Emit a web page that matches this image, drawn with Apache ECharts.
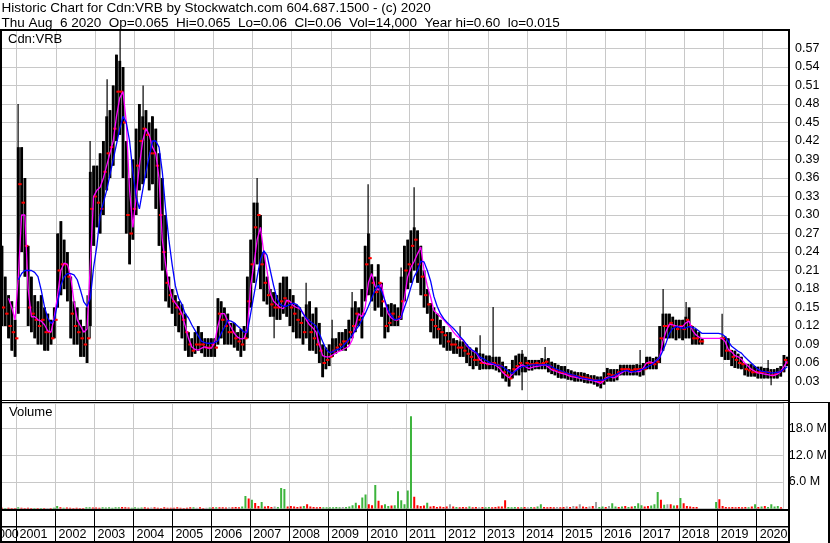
<!DOCTYPE html>
<html><head><meta charset="utf-8">
<script src="https://cdn.jsdelivr.net/npm/echarts@6/dist/echarts.min.js"></script>
<style>html,body{margin:0;padding:0;background:#fff;}#c{width:830px;height:543px;}</style>
</head><body><div id="c"></div>
<script>
// Monthly data, Aug 2000 .. Aug 2020
const START_YEAR = 2000, START_MONTH = 8;
// dense monthly trading range (high / low) and month-end close
const high = [
 .25,.20,.17,.16,.13,
 .41,.41,.36,.25,.20,.17,.16,.17,.15,.14,.13,.15,
 .27,.29,.26,.24,.20,.16,.15,.13,.12,.15,.37,.38,
 .38,.40,.42,.46,.47,.51,.56,.55,.54,.42,.36,.39,
 .44,.48,.46,.47,.45,.46,.44,.40,.36,.30,.20,.18,
 .17,.16,.155,.14,.11,.10,.11,.12,.11,.10,.10,.10,
 .10,.165,.16,.15,.14,.125,.125,.11,.115,.12,.20,.26,
 .32,.32,.30,.24,.20,.18,.175,.17,.19,.20,.20,.18,
 .17,.155,.15,.135,.155,.16,.14,.15,.125,.09,.085,.09,
 .10,.10,.11,.11,.115,.13,.15,.16,.15,.18,.25,.27,
 .22,.20,.22,.19,.15,.155,.157,.155,.15,.20,.25,.26,
 .275,.28,.275,.25,.21,.18,.157,.15,.14,.13,.12,.11,
 .11,.10,.097,.095,.095,.09,.085,.08,.085,.076,.075,.072,
 .072,.07,.07,.07,.062,.055,.05,.065,.072,.075,.075,.07,
 .065,.065,.065,.065,.068,.066,.068,.062,.06,.057,.055,.055,
 .05,.048,.046,.045,.045,.044,.042,.04,.04,.038,.038,.045,
 .052,.05,.05,.05,.057,.057,.057,.057,.057,.058,.057,.06,
 .07,.07,.068,.07,.12,.14,.14,.14,.135,.13,.13,.13,
 .135,.15,.12,.115,.11,.10,null,null,null,null,null,.10,
 .103,.10,.081,.08,.075,.07,.06,.058,.058,.055,.054,.054,
 .052,.052,.05,.05,.052,.055,.073,.07
];
const low = [
 .12,.12,.10,.08,.07,
 .14,.24,.20,.12,.11,.10,.09,.09,.08,.08,.09,.10,
 .15,.17,.18,.16,.10,.09,.09,.07,.07,.06,.12,.25,
 .28,.27,.30,.34,.36,.38,.42,.43,.36,.27,.22,.26,
 .30,.34,.35,.36,.34,.35,.31,.25,.21,.16,.15,.14,
 .12,.11,.10,.08,.07,.07,.075,.08,.076,.07,.07,.07,
 .07,.09,.10,.09,.09,.09,.085,.08,.07,.08,.10,.15,
 .19,.22,.18,.16,.155,.135,.135,.13,.13,.14,.135,.12,
 .11,.10,.10,.09,.10,.08,.08,.075,.06,.037,.05,.055,
 .07,.075,.08,.08,.08,.09,.10,.11,.12,.10,.16,.17,
 .16,.145,.15,.135,.10,.11,.12,.12,.12,.13,.16,.18,
 .19,.21,.19,.17,.15,.14,.11,.10,.10,.09,.085,.08,
 .08,.075,.075,.07,.07,.06,.055,.05,.055,.049,.05,.05,
 .05,.05,.048,.045,.035,.03,.022,.035,.04,.04,.045,.045,
 .048,.048,.05,.05,.05,.05,.045,.042,.04,.036,.035,.035,
 .033,.032,.03,.03,.03,.028,.027,.027,.025,.022,.019,.025,
 .03,.03,.03,.032,.04,.04,.04,.04,.04,.04,.038,.04,
 .05,.05,.05,.05,.06,.08,.10,.10,.10,.097,.10,.097,
 .10,.10,.09,.09,.09,.09,null,null,null,null,null,.07,
 .065,.065,.055,.052,.051,.05,.04,.038,.038,.038,.035,.035,
 .035,.035,.035,.035,.035,.038,.045,.055
];
const close = [
 .15,.14,.12,.11,.10,
 .35,.32,.25,.15,.14,.13,.12,.13,.11,.11,.10,.13,
 .21,.22,.22,.20,.14,.12,.11,.10,.09,.10,.31,.33,
 .32,.31,.37,.40,.41,.44,.50,.50,.45,.30,.27,.31,
 .38,.42,.44,.43,.40,.40,.38,.30,.24,.19,.17,.16,
 .15,.14,.13,.11,.09,.08,.09,.09,.09,.085,.085,.09,
 .085,.14,.13,.12,.11,.11,.10,.095,.09,.10,.16,.22,
 .28,.30,.22,.19,.17,.155,.15,.15,.16,.165,.16,.15,
 .14,.13,.125,.11,.13,.11,.10,.09,.08,.06,.065,.07,
 .08,.085,.09,.095,.095,.11,.12,.14,.13,.14,.22,.23,
 .19,.175,.19,.16,.12,.125,.14,.13,.135,.16,.21,.22,
 .25,.26,.22,.20,.17,.155,.13,.12,.115,.11,.105,.095,
 .09,.09,.085,.085,.08,.075,.07,.065,.065,.06,.06,.058,
 .06,.06,.057,.055,.045,.04,.035,.05,.055,.06,.055,.06,
 .058,.058,.06,.058,.06,.062,.055,.05,.048,.045,.045,.043,
 .04,.04,.038,.038,.037,.036,.035,.033,.032,.03,.03,.035,
 .042,.04,.04,.045,.05,.05,.05,.048,.05,.05,.05,.05,
 .06,.06,.058,.062,.10,.12,.12,.125,.12,.115,.12,.115,
 .13,.12,.10,.10,.095,.095,null,null,null,null,null,.10,
 .08,.08,.07,.065,.06,.058,.05,.048,.045,.045,.045,.045,
 .045,.045,.04,.042,.045,.048,.065,.06
];
// single-day extremes that stick out of the dense range (thin wicks)
const spikeMonths = ['2001-01','2002-10','2002-11','2003-04','2003-08','2004-03','2007-02','2007-07','2008-05','2009-01','2009-07','2009-12','2010-10','2011-02','2012-04','2012-10','2013-02','2013-11','2014-06','2016-11','2017-06','2018-01','2018-12','2020-02','2020-03'];
const spikeHighs = [.48,.17,.42,.52,.60,.51,.36,null,.19,.13,.175,.35,.215,.345,.12,.105,.151,.081,.086,.081,.18,.159,.14,.065,null];
const spikeLows  = [null,null,.10,null,null,null,null,.10,null,null,null,null,null,null,null,null,null,.016,null,null,null,null,null,null,.024];
const maShort = [
 null,null,.165,.15,.13,
 .20,.30,.30,.18,.135,.135,.13,.128,.122,.112,.11,.135,
 .17,.21,.222,.22,.20,.16,.13,.12,.11,.115,.22,.33,
 .34,.345,.36,.38,.40,.42,.46,.49,.50,.45,.34,.28,
 .33,.38,.42,.44,.43,.41,.40,.36,.26,.22,.187,.165,
 .157,.15,.14,.12,.10,.086,.082,.081,.084,.086,.084,.084,
 .094,.12,.14,.14,.128,.118,.108,.102,.099,.10,.115,.185,
 .22,.26,.28,.24,.21,.173,.16,.155,.15,.148,.162,.16,
 .153,.15,.148,.142,.13,.122,.117,.11,.09,.072,.07,.07,
 .073,.076,.079,.081,.084,.087,.097,.12,.14,.135,.15,.19,
 .205,.185,.178,.188,.16,.14,.133,.13,.13,.133,.165,.20,
 .215,.225,.237,.248,.21,.185,.167,.145,.14,.135,.13,.124,
 .118,.11,.104,.10,.097,.088,.083,.079,.076,.066,.061,.059,
 .058,.058,.056,.052,.045,.04,.036,.042,.049,.054,.057,.054,
 .051,.053,.054,.055,.056,.057,.053,.049,.047,.045,.043,.042,
 .04,.038,.037,.036,.035,.034,.033,.032,.031,.029,.027,.032,
 .037,.037,.036,.038,.043,.046,.048,.045,.046,.046,.046,.052,
 .06,.062,.06,.064,.069,.095,.112,.123,.122,.12,.119,.119,
 .125,.128,.113,.106,.102,.10,.10,.10,.10,.10,.10,.10,
 .095,.082,.078,.072,.07,.066,.06,.055,.05,.047,.044,.043,
 .042,.041,.04,.04,.042,.046,.054,.063
];
const maLong = [
 null,null,null,null,null,
 .195,.205,.21,.21,.21,.207,.20,.178,.151,.133,.124,.13,
 .157,.186,.20,.205,.205,.203,.195,.178,.159,.152,.165,.215,
 .25,.30,.32,.34,.365,.39,.415,.44,.46,.45,.42,.37,
 .33,.31,.34,.37,.395,.42,.42,.41,.37,.31,.26,.22,
 .185,.165,.155,.14,.133,.122,.113,.104,.095,.093,.092,.092,
 .093,.096,.108,.118,.129,.128,.125,.12,.115,.11,.11,.14,
 .17,.20,.228,.242,.235,.21,.186,.165,.155,.152,.152,.155,
 .157,.155,.15,.14,.133,.128,.124,.12,.108,.095,.083,.077,
 .078,.081,.083,.086,.092,.098,.105,.113,.12,.13,.14,.152,
 .165,.178,.186,.177,.162,.146,.137,.13,.131,.134,.15,.165,
 .183,.20,.21,.225,.224,.21,.193,.168,.152,.14,.132,.126,
 .121,.116,.11,.103,.097,.09,.084,.08,.077,.07,.067,.064,
 .061,.059,.057,.056,.054,.05,.046,.043,.047,.051,.054,.055,
 .056,.057,.057,.057,.057,.057,.057,.054,.051,.049,.047,.045,
 .043,.041,.04,.038,.036,.035,.034,.033,.032,.032,.032,.033,
 .035,.037,.039,.042,.045,.047,.048,.046,.046,.047,.049,.05,
 .053,.056,.059,.064,.069,.08,.093,.108,.116,.119,.118,.116,
 .117,.119,.118,.116,.112,.108,.108,.108,.108,.108,.108,.107,
 .103,.095,.087,.083,.079,.076,.07,.065,.06,.055,.05,.047,
 .046,.045,.044,.044,.045,.046,.05,.054
];
// volume in millions of shares, and direction (1 up / -1 down / 0 unchanged)
const volume = [
 .2,.15,.2,.1,.15,
 .3,.2,.15,.2,.1,.15,.1,.15,.1,.15,.1,.2,
 .6,.3,.2,.25,.2,.15,.2,.1,.15,.3,.3,.25,
 .25,.2,.3,.25,.3,.2,.3,.35,.4,.3,.25,.2,
 .3,.2,.25,.3,.2,.25,.3,.2,.15,.3,.2,.2,
 .2,.3,.2,.15,.2,.3,.35,.2,.3,.15,.2,.25,
 .3,.35,.3,.3,.25,.3,.3,.4,.35,.5,2.85,2.3,
 2.0,1.3,.6,1.5,.5,.6,.4,.5,.4,4.65,4.4,.5,
 .6,.5,.4,.5,.6,1.0,.5,.4,.3,.4,.3,.3,
 .3,.3,.4,.3,.4,.4,.5,.8,1.35,.8,2.5,3.2,
 1.0,.8,5.3,1.8,.8,1.0,.6,.7,.8,3.9,1.9,1.0,
 4.1,20.8,2.7,.8,.6,.7,1.35,.5,.6,.4,.5,.4,
 .5,1.0,.5,.4,.3,.4,.3,.5,.3,.4,.3,.4,
 .3,.4,.3,.4,.5,.5,1.9,.4,.3,.4,.3,.3,
 .4,.3,.4,.3,.5,1.0,.4,.3,.4,.3,.4,.3,
 .4,.5,.4,.6,.5,1.0,.5,.4,.5,.6,1.5,.4,
 .5,.4,.6,1.2,.5,.4,.5,.6,.4,.5,.6,1.2,
 .8,.5,.6,.7,1.0,3.75,2.0,.9,1.0,1.0,.7,.8,
 2.4,1.2,.6,.5,.4,.4,null,null,null,null,null,1.5,
 2.1,.6,.4,.3,.4,.3,.4,.3,.4,.3,.5,1.0,
 .4,.5,.6,.4,1.0,.5,.6,.3
];
const volDir = [
 -1,1,-1,-1,-1,
 1,-1,-1,-1,-1,1,-1,1,-1,0,-1,1,
 1,-1,1,-1,-1,-1,-1,-1,-1,1,1,-1,
 -1,-1,1,1,1,1,1,1,-1,-1,-1,1,
 1,1,1,-1,-1,0,-1,-1,-1,-1,-1,-1,
 -1,-1,-1,-1,-1,-1,1,0,-1,-1,0,1,
 -1,1,-1,-1,-1,0,-1,-1,-1,1,1,-1,
 1,-1,-1,1,-1,-1,-1,0,1,1,1,-1,
 -1,-1,-1,-1,1,-1,-1,-1,-1,-1,1,1,
 1,1,1,1,0,1,1,1,1,-1,1,1,
 -1,-1,1,-1,-1,1,1,-1,1,1,1,1,
 1,1,-1,-1,-1,-1,1,-1,-1,-1,-1,-1,
 -1,0,-1,1,-1,-1,-1,1,-1,-1,0,-1,
 1,1,-1,-1,-1,-1,-1,1,1,1,-1,1,
 -1,0,1,-1,1,1,-1,-1,-1,-1,0,-1,
 -1,0,-1,0,-1,0,-1,-1,0,-1,0,1,
 1,-1,0,1,1,-1,1,-1,1,-1,1,1,
 1,-1,-1,1,1,1,-1,1,0,-1,1,-1,
 1,-1,-1,-1,-1,-1,0,0,0,0,0,1,
 -1,-1,-1,-1,-1,-1,-1,-1,-1,1,-1,1,
 -1,1,-1,1,1,1,1,-1
];
const headerLine1 = 'Historic Chart for Cdn:VRB by Stockwatch.com 604.687.1500 - (c) 2020';
const headerLine2 = 'Thu Aug  6 2020  Op=0.065  Hi=0.065  Lo=0.06  Cl=0.06  Vol=14,000  Year hi=0.60  lo=0.015';
const symbolLabel = 'Cdn:VRB';
const volumeLabel = 'Volume';
const firstYearLabel = '2000';

// month centre positions as decimal years
const monthKey = i => { const k = START_MONTH - 1 + i; const y = START_YEAR + Math.floor(k / 12), m = k % 12 + 1; return y + '-' + (m < 10 ? '0' : '') + m; };
const monthPos = high.map((_, i) => { const k = START_MONTH - 1 + i; return START_YEAR + Math.floor(k / 12) + ((k % 12) + 0.5) / 12; });

const ohlcData = [];
monthPos.forEach((x, i) => {
  if (high[i] == null) return;
  const s = spikeMonths.indexOf(monthKey(i));
  const wh = s >= 0 && spikeHighs[s] != null ? spikeHighs[s] : high[i];
  const wl = s >= 0 && spikeLows[s] != null ? spikeLows[s] : low[i];
  const prev = i > 0 && close[i - 1] != null ? close[i - 1] : close[i];
  ohlcData.push([x, high[i], low[i], close[i], wh, wl, prev]);
});
const volData = [];
monthPos.forEach((x, i) => { if (volume[i] != null) volData.push([x, volume[i], volDir[i]]); });

const FONT = '"Liberation Sans", Arial, sans-serif';
const GRID_COLOR = '#c8c8c8';
const X_MIN = 2000.6001, X_MAX = 2020.6698;

const chart = echarts.init(document.getElementById('c'), null, {renderer: 'canvas'});
const xBase = {type: 'value', min: X_MIN, max: X_MAX, minInterval: 1, maxInterval: 1, splitNumber: 20,
  splitLine: {show: true, lineStyle: {color: GRID_COLOR, width: 1}}};
const isYear = v => Math.abs(v - Math.round(v)) < 1e-6;
chart.setOption({
  animation: false,
  backgroundColor: '#fff',
  textStyle: {fontFamily: FONT},
  grid: [
    {left: 1, right: 41, top: 30, height: 370},
    {left: 1, right: 41, top: 403, height: 105.7}
  ],
  xAxis: [
    Object.assign({}, xBase, {gridIndex: 0, axisLine: {show: false}, axisTick: {show: false}, axisLabel: {show: false}}),
    Object.assign({}, xBase, {gridIndex: 1, axisLine: {show: false},
      axisTick: {show: true, length: 33, lineStyle: {color: '#000', width: 1}},
      axisLabel: {show: true, align: 'left', margin: 19, padding: [0, 0, 0, 3], color: '#000',
        fontFamily: FONT, fontSize: 12.5, showMinLabel: false, showMaxLabel: false,
        formatter: v => isYear(v) ? String(Math.round(v)) : ''}})
  ],
  yAxis: [
    {type: 'value', gridIndex: 0, position: 'right', min: 0, max: 0.6, interval: 0.03,
      axisLine: {show: false}, axisTick: {show: false},
      axisLabel: {margin: 6, color: '#000', fontFamily: FONT, fontSize: 12.5,
        formatter: v => (v > 0.001 && v < 0.595) ? v.toFixed(2) : ''},
      splitLine: {show: true, lineStyle: {color: GRID_COLOR, width: 1}}},
    {type: 'value', gridIndex: 1, position: 'right', min: 0, max: 23.75, interval: 6,
      axisLine: {show: false}, axisTick: {show: false},
      axisLabel: {margin: 6, color: '#000', fontFamily: FONT, fontSize: 12.5,
        formatter: v => (v > 0.1 && Math.abs(v / 6 - Math.round(v / 6)) < 1e-6) ? v.toFixed(1) + ' M' : ''},
      splitLine: {show: true, lineStyle: {color: GRID_COLOR, width: 1}}}
  ],
  series: [
    {type: 'custom', xAxisIndex: 0, yAxisIndex: 0, clip: true, z: 2,
      encode: {x: 0, y: [1, 2, 3, 4, 5]},
      data: ohlcData,
      renderItem: (params, api) => {
        const x = api.value(0);
        const top = api.coord([x, api.value(1)]);
        const bot = api.coord([x, api.value(2)]);
        const cl = api.coord([x, api.value(3)]);
        const wt = api.coord([x, api.value(4)]);
        const wb = api.coord([x, api.value(5)]);
        const op = api.coord([x, api.value(6)]);
        const w = api.size([1 / 12, 0])[0] * 0.88;
        return {type: 'group', children: [
          {type: 'rect', shape: {x: Math.round(top[0]) - 0.5, y: wt[1], width: 1.2, height: Math.max(1, wb[1] - wt[1])}, style: {fill: '#000'}},
          {type: 'rect', shape: {x: top[0] - w / 2, y: top[1], width: w, height: Math.max(1, bot[1] - top[1])}, style: {fill: '#000'}},
          {type: 'rect', shape: {x: op[0] - w / 2 - 0.5, y: op[1] - 1, width: 2, height: 2}, style: {fill: '#ff0000'}},
          {type: 'rect', shape: {x: cl[0] + w / 2 - 1.5, y: cl[1] - 1, width: 2, height: 2}, style: {fill: '#ff0000'}}
        ]};
      }},
    {type: 'line', xAxisIndex: 0, yAxisIndex: 0, z: 3, symbol: 'none', showSymbol: false, silent: true,
      data: monthPos.map((x, i) => [x, maShort[i]]), lineStyle: {color: '#ff00ff', width: 1.3}},
    {type: 'line', xAxisIndex: 0, yAxisIndex: 0, z: 4, symbol: 'none', showSymbol: false, silent: true,
      data: monthPos.map((x, i) => [x, maLong[i]]), lineStyle: {color: '#0000ff', width: 1.3}},
    {type: 'custom', xAxisIndex: 1, yAxisIndex: 1, clip: true, z: 2,
      encode: {x: 0, y: 1},
      data: volData,
      renderItem: (params, api) => {
        const x = api.value(0), d = api.value(2);
        const p = api.coord([x, api.value(1)]);
        const b = api.coord([x, 0]);
        return {type: 'rect', shape: {x: p[0] - 1, y: p[1], width: 2, height: Math.max(0.8, b[1] - p[1])},
          style: {fill: d > 0 ? '#3cb43c' : (d < 0 ? '#ff0000' : '#a0a0a0')}};
      }}
  ],
  graphic: [
    {type: 'rect', z: 100, shape: {x: 790, y: 511, width: 37, height: 30}, style: {fill: '#fff'}},
    {type: 'rect', z: 101, shape: {x: 0, y: 29, width: 790, height: 2}, style: {fill: '#000'}},
    {type: 'rect', z: 101, shape: {x: 0, y: 30, width: 2, height: 513}, style: {fill: '#000'}},
    {type: 'rect', z: 101, shape: {x: 788, y: 30, width: 2, height: 513}, style: {fill: '#000'}},
    {type: 'rect', z: 101, shape: {x: 0, y: 400, width: 790, height: 1}, style: {fill: '#000'}},
    {type: 'rect', z: 101, shape: {x: 0, y: 402, width: 830, height: 1}, style: {fill: '#000'}},
    {type: 'rect', z: 101, shape: {x: 828, y: 402, width: 2, height: 141}, style: {fill: '#000'}},
    {type: 'rect', z: 101, shape: {x: 0, y: 509, width: 790, height: 2}, style: {fill: '#000'}},
    {type: 'rect', z: 101, shape: {x: 0, y: 526, width: 790, height: 1.5}, style: {fill: '#000'}},
    {type: 'rect', z: 101, shape: {x: 0, y: 541, width: 790, height: 2}, style: {fill: '#000'}},
    {type: 'text', z: 102, left: 1.5, top: 1.5, style: {text: headerLine1, font: '13.5px ' + FONT, fill: '#000'}},
    {type: 'text', z: 102, left: 1.5, top: 16, style: {text: headerLine2, font: '13.5px ' + FONT, fill: '#000'}},
    {type: 'text', z: 102, left: 8, top: 33, style: {text: symbolLabel, font: '13px ' + FONT, fill: '#000'}},
    {type: 'text', z: 102, left: 9, top: 406, style: {text: volumeLabel, font: '13px ' + FONT, fill: '#000'}},
    {type: 'text', z: 102, x: -9, y: 528, style: {text: firstYearLabel, font: '12.5px ' + FONT, fill: '#000'}}
  ]
});
</script></body></html>
